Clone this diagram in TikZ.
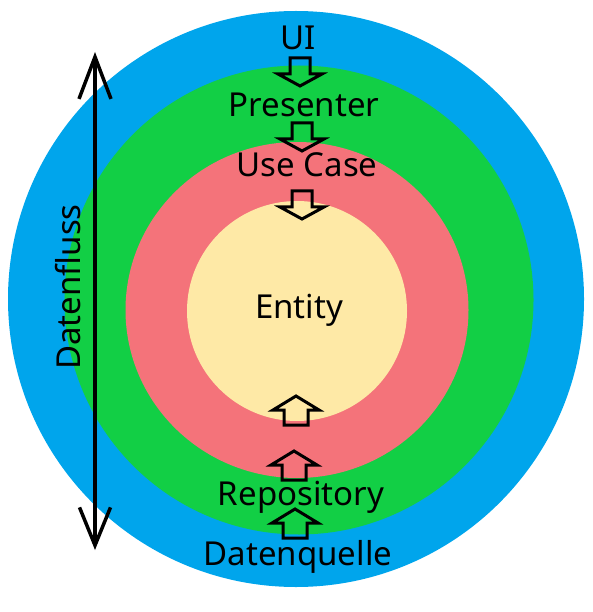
\documentclass[tikz,border=0pt]{standalone}
\usepackage{fontspec}
\setmainfont{Noto Sans}
\usetikzlibrary{arrows.meta}
\definecolor{ringBlue}{HTML}{00A5EC}
\definecolor{ringGreen}{HTML}{12CF45}
\definecolor{ringRed}{HTML}{F4737A}
\definecolor{ringYellow}{HTML}{FEE9A6}

\begin{document}
\begin{tikzpicture}[x=1pt, y=-1pt,
  layer/.style={font=\fontsize{33}{40}\selectfont, anchor=base, inner sep=0pt},
  blockarrow/.style={draw=black, line width=3pt}]
  \useasboundingbox (0,0) rectangle (592,612);
  % Rings
  \fill[ringBlue] (296,299) circle (288pt);
  \fill[ringGreen] (299,300) circle (234.5pt);
  \fill[ringRed] (297,310) ellipse (171.5pt and 168pt);
  \fill[ringYellow] (297,311) circle (110pt);
  % Layer names
  \node[layer] (ui) at (298,50) {UI};
  \node[layer] (presenter) at (304,117) {Presenter};
  \node[layer] (usecase) at (307,177) {Use Case};
  \node[layer] (entity) at (299,318) {Entity};
  \node[layer] (repository) at (301,505) {Repository};
  \node[layer] (quelle) at (298,565) {Datenquelle};
  \node[layer, rotate=90] (fluss) at (80,287) {Datenfluss};
  % Data flow
  \coordinate (flowtop) at (95,52);
  \coordinate (flowbot) at (95,550);
  \draw[line width=3.5pt, {Straight Barb[length=42pt,width=32pt]}-{Straight Barb[length=38pt,width=31pt]}] (flowtop) -- (flowbot);
  % Down arrows
  \foreach \x/\y in {300/58, 302/123, 302/191}
    \draw[blockarrow] (\x-10,\y) -- (\x+10,\y) -- (\x+10,\y+16) -- (\x+22,\y+16)
      -- (\x,\y+28) -- (\x-22,\y+16) -- (\x-10,\y+16) -- cycle;
  % Up arrows
  \foreach \x/\y in {296/425, 294/480, 295/538}
    \draw[blockarrow] (\x-12,\y) -- (\x+12,\y) -- (\x+12,\y-15) -- (\x+23,\y-15)
      -- (\x,\y-29) -- (\x-23,\y-15) -- (\x-12,\y-15) -- cycle;
\end{tikzpicture}
\end{document}
